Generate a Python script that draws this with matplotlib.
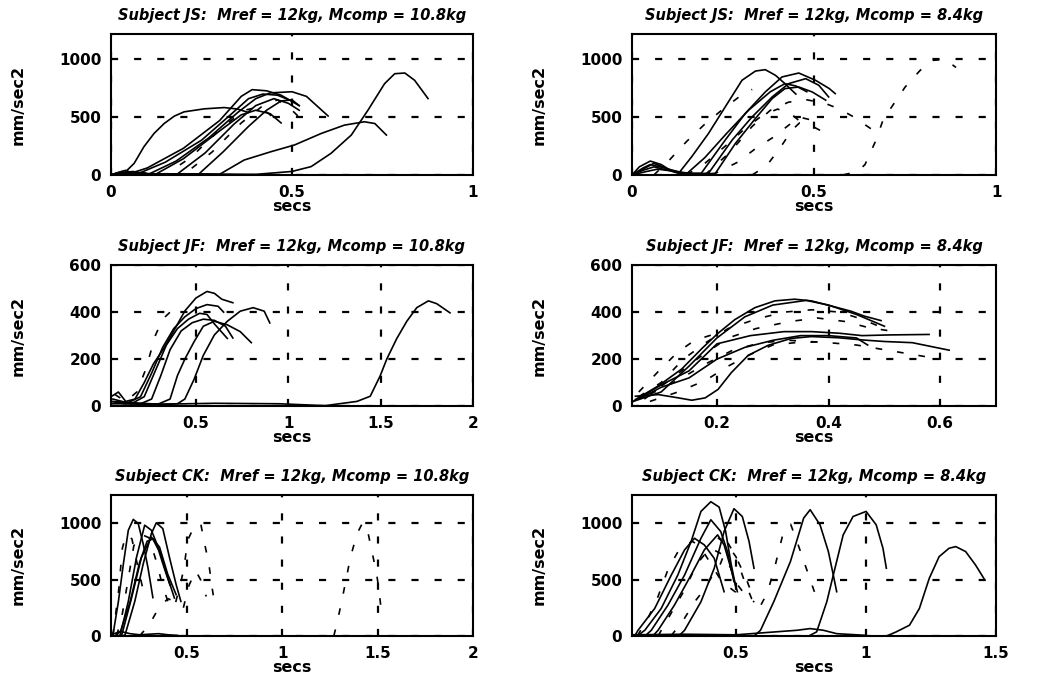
import numpy as np
import matplotlib
matplotlib.use('Agg')
import matplotlib.pyplot as plt

# Acceleration traces (mm/sec2 vs secs) for three subjects, two comparison masses.
# Each panel: list of time arrays, list of acceleration arrays, dashed flags.

# Subject JS, Mcomp = 10.8kg
js_108_t = [
    [0.0, 0.02, 0.036, 0.064, 0.091, 0.119, 0.147, 0.175, 0.202, 0.258, 0.313, 0.35, 0.38],
    [0.0, 0.03, 0.05, 0.1, 0.2, 0.3, 0.36, 0.39, 0.43, 0.47, 0.52],
    [0.0, 0.04, 0.07, 0.15, 0.25, 0.33, 0.38, 0.42, 0.46, 0.5],
    [0.0, 0.05, 0.1, 0.18, 0.27, 0.35, 0.4, 0.44, 0.5, 0.54, 0.6],
    [0.0, 0.06, 0.12, 0.2, 0.3, 0.36, 0.4, 0.44, 0.47],
    [0.02, 0.08, 0.15, 0.22, 0.31, 0.37, 0.41, 0.44, 0.46],
    [0.0, 0.08, 0.18, 0.26, 0.34, 0.4, 0.45, 0.49, 0.52],
    [0.05, 0.2, 0.28, 0.36, 0.42, 0.46, 0.5, 0.53],
    [0.0, 0.1, 0.24, 0.31, 0.38, 0.43, 0.47, 0.5, 0.52],
    [0.0, 0.15, 0.3, 0.368, 0.442, 0.507, 0.581, 0.645, 0.7, 0.729, 0.761],
    [0.0, 0.2, 0.4, 0.5, 0.553, 0.608, 0.664, 0.71, 0.756, 0.784, 0.812, 0.839, 0.876],
]
js_108_a = [
    [0, 20, 14, 100, 244, 359, 445, 509, 546, 572, 583, 570, 540],
    [0, 30, 10, 60, 230, 470, 680, 738, 728, 690, 600],
    [0, 40, 5, 110, 300, 520, 660, 700, 690, 640],
    [0, 25, 0, 120, 320, 540, 660, 710, 720, 680, 510],
    [0, 30, 0, 140, 380, 520, 560, 530, 450],
    [0, 20, 0, 150, 420, 560, 590, 520, 430],
    [0, 15, 0, 190, 440, 600, 660, 620, 560],
    [10, 0, 200, 450, 600, 650, 560, 470],
    [0, 10, 0, 200, 420, 560, 640, 650, 600],
    [0, 10, 5, 129, 201, 259, 359, 431, 460, 445, 345],
    [0, 10, 5, 30, 72, 187, 345, 560, 790, 876, 882, 819, 661],
]
js_108_dash = [False, False, False, False, False, True, False, True, False, False, False]

# Subject JS, Mcomp = 8.4kg
js_84_t = [
    [0, 0.02, 0.05, 0.08, 0.11, 0.128, 0.164, 0.21, 0.256, 0.302, 0.339, 0.366, 0.394, 0.42, 0.45],
    [0, 0.03, 0.05, 0.09, 0.13, 0.19, 0.256, 0.311, 0.366, 0.412, 0.458, 0.504, 0.542, 0.558],
    [0, 0.03, 0.06, 0.1, 0.15, 0.21, 0.275, 0.33, 0.385, 0.43, 0.477, 0.513, 0.54],
    [0, 0.04, 0.07, 0.12, 0.18, 0.229, 0.284, 0.339, 0.385, 0.42, 0.458, 0.495, 0.532],
    [0, 0.03, 0.06, 0.1, 0.15, 0.2, 0.26, 0.32, 0.38, 0.42, 0.45, 0.48],
    [0.58, 0.62, 0.64, 0.67, 0.69, 0.72, 0.75, 0.79, 0.82, 0.86, 0.89],
    [0.2, 0.27, 0.33, 0.38, 0.43, 0.48, 0.53, 0.57, 0.61, 0.656],
    [0.06, 0.1, 0.15, 0.2, 0.25, 0.3, 0.33],
    [0.22, 0.29, 0.34, 0.39, 0.43, 0.46, 0.5],
    [0.15, 0.2, 0.26, 0.31, 0.36, 0.4, 0.44, 0.47],
    [0.33, 0.37, 0.41, 0.44, 0.46, 0.49, 0.52],
]
js_84_a = [
    [0, 70, 120, 90, 30, 14, 158, 359, 589, 819, 899, 911, 862, 790, 700],
    [0, 60, 90, 60, 15, 14, 302, 532, 718, 848, 882, 819, 747, 704],
    [0, 40, 70, 40, 10, 14, 302, 503, 675, 790, 833, 776, 675],
    [0, 30, 50, 30, 5, 14, 273, 489, 661, 747, 761, 718, 647],
    [0, 50, 100, 50, 10, 150, 360, 560, 720, 790, 770, 720],
    [0, 30, 90, 300, 480, 620, 760, 900, 990, 1000, 930],
    [0, 200, 420, 560, 630, 650, 620, 570, 500, 400],
    [0, 120, 290, 440, 570, 690, 740],
    [0, 110, 230, 330, 430, 500, 470],
    [0, 100, 260, 400, 520, 570, 520, 440],
    [0, 80, 250, 390, 450, 430, 380],
]
js_84_dash = [False, False, False, False, False, True, True, True, True, True, True]

# Subject JF, Mcomp = 10.8kg
jf_108_t = [
    [0.04, 0.08, 0.12, 0.17, 0.22, 0.27, 0.33, 0.38, 0.44, 0.5, 0.56, 0.6, 0.64, 0.7],
    [0.04, 0.12, 0.2, 0.26, 0.32, 0.38, 0.44, 0.5, 0.56, 0.62, 0.65],
    [0.05, 0.15, 0.22, 0.28, 0.34, 0.4, 0.46, 0.52, 0.56, 0.6, 0.67],
    [0.05, 0.2, 0.26, 0.31, 0.36, 0.42, 0.48, 0.54, 0.6, 0.66, 0.7],
    [0.06, 0.3, 0.36, 0.4, 0.44, 0.49, 0.54, 0.6, 0.67, 0.74, 0.8],
    [0.05, 0.4, 0.44, 0.49, 0.54, 0.6, 0.67, 0.74, 0.81, 0.87, 0.9],
    [0.06, 0.12, 0.18, 0.23, 0.28, 0.32, 0.36, 0.4],
    [0.04, 0.3, 0.6, 0.95, 1.2, 1.372, 1.444, 1.498, 1.534, 1.588, 1.642, 1.696, 1.759, 1.804, 1.876],
]
jf_108_a = [
    [40, 60, 20, 30, 100, 180, 250, 320, 405, 460, 488, 480, 455, 440],
    [20, 10, 40, 140, 250, 330, 380, 415, 432, 425, 400],
    [30, 10, 40, 150, 260, 330, 370, 395, 390, 350, 288],
    [10, 10, 30, 130, 240, 320, 355, 370, 365, 340, 290],
    [0, 10, 30, 130, 200, 274, 340, 361, 346, 317, 270],
    [0, 10, 30, 114, 216, 303, 361, 404, 419, 404, 354],
    [50, 20, 60, 160, 300, 370, 400, 380],
    [20, 8, 12, 10, 2, 20, 42, 129, 201, 288, 361, 419, 448, 436, 397],
]
jf_108_dash = [False, False, False, False, False, False, True, False]

# Subject JF, Mcomp = 8.4kg
jf_84_t = [
    [0.054, 0.095, 0.137, 0.173, 0.202, 0.232, 0.268, 0.304, 0.339, 0.369, 0.405, 0.44, 0.464, 0.494],
    [0.05, 0.1, 0.15, 0.2, 0.25, 0.3, 0.36, 0.4, 0.45, 0.5],
    [0.05, 0.1, 0.15, 0.2, 0.26, 0.32, 0.37, 0.42, 0.46, 0.51, 0.58],
    [0.054, 0.095, 0.131, 0.155, 0.179, 0.202, 0.226, 0.256, 0.292, 0.333, 0.369, 0.417, 0.464, 0.5, 0.55, 0.616],
    [0.06, 0.1, 0.15, 0.2, 0.25, 0.3, 0.35, 0.4, 0.45, 0.47],
    [0.06, 0.1, 0.14, 0.18, 0.22, 0.27, 0.32, 0.37, 0.42, 0.46, 0.5],
    [0.07, 0.12, 0.17, 0.22, 0.27, 0.33, 0.38, 0.43, 0.47, 0.51],
    [0.08, 0.13, 0.18, 0.23, 0.28, 0.33, 0.4, 0.45, 0.5, 0.55, 0.6],
    [0.06, 0.1, 0.13, 0.16, 0.2],
    [0.08, 0.13, 0.18, 0.22, 0.26, 0.3, 0.34, 0.4],
]
jf_84_a = [
    [28, 86, 158, 245, 310, 368, 419, 448, 455, 448, 426, 404, 383, 364],
    [20, 60, 170, 290, 380, 430, 450, 430, 390, 340],
    [20, 90, 150, 265, 300, 317, 317, 310, 300, 303, 305],
    [42, 49, 35, 25, 35, 71, 143, 216, 259, 288, 296, 291, 281, 275, 270, 238],
    [30, 80, 120, 200, 250, 280, 300, 300, 290, 260],
    [40, 100, 200, 270, 330, 370, 400, 410, 400, 370, 330],
    [30, 120, 210, 290, 330, 360, 375, 360, 335, 320],
    [50, 110, 180, 240, 270, 280, 270, 260, 240, 220, 200],
    [60, 160, 230, 280, 310],
    [20, 60, 110, 170, 220, 260, 270, 275],
]
jf_84_dash = [False, False, False, False, False, True, True, True, True, True]

# Subject CK, Mcomp = 10.8kg
ck_108_t = [
    [0.1, 0.113, 0.139, 0.165, 0.191, 0.217, 0.243, 0.269, 0.294, 0.32],
    [0.13, 0.148, 0.191, 0.234, 0.277, 0.312, 0.355, 0.398, 0.433],
    [0.16, 0.174, 0.225, 0.269, 0.312, 0.338, 0.372, 0.407, 0.442, 0.467],
    [0.14, 0.157, 0.208, 0.26, 0.312, 0.355, 0.398, 0.442],
    [0.12, 0.15, 0.2, 0.25, 0.29, 0.32, 0.35, 0.38, 0.41],
    [0.1, 0.15, 0.2, 0.25, 0.3, 0.35, 0.4, 0.45],
    [1.27, 1.288, 1.313, 1.34, 1.357, 1.392, 1.42, 1.443, 1.469, 1.495, 1.51, 1.52],
    [0.44, 0.47, 0.484, 0.502, 0.536, 0.571, 0.588, 0.614, 0.631, 0.64],
    [0.48, 0.51, 0.545, 0.57, 0.588, 0.6],
    [0.25, 0.3, 0.355, 0.4, 0.44, 0.47],
    [0.13, 0.16, 0.19, 0.22, 0.26, 0.3, 0.34, 0.37, 0.4],
    [0.11, 0.14, 0.16, 0.18, 0.21, 0.24, 0.27],
]
ck_108_a = [
    [0, 36, 306, 637, 937, 1033, 997, 817, 607, 340],
    [0, 6, 306, 697, 982, 937, 757, 517, 336],
    [0, 10, 306, 637, 907, 1003, 952, 697, 456, 306],
    [0, 10, 336, 697, 877, 787, 547, 366],
    [0, 40, 300, 650, 840, 860, 760, 600, 450],
    [10, 40, 20, 10, 15, 20, 10, 5],
    [0, 126, 321, 550, 697, 907, 1000, 967, 757, 547, 366, 200],
    [300, 500, 607, 847, 967, 997, 847, 637, 426, 330],
    [250, 450, 577, 500, 411, 350],
    [0, 96, 261, 330, 300, 240],
    [0, 200, 500, 800, 900, 870, 650, 450, 300],
    [0, 400, 780, 900, 860, 620, 400],
]
ck_108_dash = [False, False, False, False, False, False, True, True, True, True, True, True]

# Subject CK, Mcomp = 8.4kg
ck_84_t = [
    [0.12, 0.149, 0.212, 0.276, 0.327, 0.365, 0.403, 0.435, 0.46, 0.48, 0.5],
    [0.28, 0.302, 0.365, 0.416, 0.454, 0.492, 0.524, 0.55, 0.569],
    [0.15, 0.174, 0.238, 0.302, 0.365, 0.403, 0.441, 0.467, 0.492],
    [0.11, 0.123, 0.187, 0.251, 0.302, 0.34, 0.378, 0.416, 0.454],
    [0.18, 0.2, 0.263, 0.327, 0.378, 0.429, 0.454, 0.48, 0.505],
    [0.57, 0.594, 0.645, 0.709, 0.76, 0.785, 0.823, 0.855, 0.874, 0.887],
    [0.78, 0.81, 0.849, 0.874, 0.912, 0.95, 1.0, 1.039, 1.065, 1.078],
    [1.08, 1.116, 1.167, 1.205, 1.243, 1.281, 1.319, 1.345, 1.383, 1.421, 1.453],
    [0.1, 0.3, 0.5, 0.734, 0.785, 0.836, 0.887, 1.0],
    [0.43, 0.47, 0.5, 0.53, 0.56, 0.59, 0.62, 0.65, 0.68, 0.71, 0.74, 0.77, 0.8, 0.82],
    [0.12, 0.16, 0.2, 0.24, 0.28, 0.33, 0.36, 0.4, 0.44, 0.48, 0.52],
    [0.25, 0.3, 0.34, 0.38, 0.4, 0.44, 0.47, 0.5, 0.54, 0.56],
    [0.2, 0.25, 0.3, 0.35, 0.4, 0.45, 0.48, 0.5, 0.53, 0.57],
]
ck_84_a = [
    [0, 50, 243, 540, 837, 1104, 1190, 1142, 926, 650, 420],
    [0, 50, 303, 600, 926, 1128, 1059, 837, 600],
    [0, 50, 273, 540, 866, 1030, 926, 748, 481],
    [0, 50, 243, 540, 763, 866, 807, 688, 392],
    [0, 50, 273, 540, 763, 896, 807, 600, 392],
    [0, 50, 303, 659, 1045, 1119, 985, 748, 540, 392],
    [0, 36, 303, 540, 896, 1059, 1104, 985, 777, 600],
    [0, 36, 95, 243, 510, 703, 777, 792, 748, 629, 510],
    [10, 15, 10, 50, 65, 50, 20, 5],
    [870, 800, 700, 500, 330, 250, 380, 620, 900, 990, 800, 600, 400, 300],
    [0, 150, 350, 600, 760, 840, 800, 650, 500, 420, 350],
    [0, 150, 300, 420, 500, 640, 820, 700, 500, 380],
    [0, 200, 400, 640, 780, 720, 600, 470, 380, 300],
]
ck_84_dash = [False] * 9 + [True] * 4

titles = [
    'Subject JS:  Mref = 12kg, Mcomp = 10.8kg',
    'Subject JS:  Mref = 12kg, Mcomp = 8.4kg',
    'Subject JF:  Mref = 12kg, Mcomp = 10.8kg',
    'Subject JF:  Mref = 12kg, Mcomp = 8.4kg',
    'Subject CK:  Mref = 12kg, Mcomp = 10.8kg',
    'Subject CK:  Mref = 12kg, Mcomp = 8.4kg',
]
xlims = [(0, 1), (0, 1), (0.04, 2), (0.048, 0.7), (0.1, 2), (0.1, 1.5)]
ylims = [(0, 1220), (0, 1220), (0, 600), (0, 600), (0, 1250), (0, 1250)]
xticks = [[0, 0.5, 1], [0, 0.5, 1], [0.5, 1, 1.5, 2], [0.2, 0.4, 0.6],
          [0.5, 1, 1.5, 2], [0.5, 1, 1.5]]
xticklabels = [['0', '0.5', '1'], ['0', '0.5', '1'], ['0.5', '1', '1.5', '2'],
               ['0.2', '0.4', '0.6'], ['0.5', '1', '1.5', '2'], ['0.5', '1', '1.5']]
yticks = [[0, 500, 1000], [0, 500, 1000], [0, 200, 400, 600], [0, 200, 400, 600],
          [0, 500, 1000], [0, 500, 1000]]

panels = [
    (js_108_t, js_108_a, js_108_dash),
    (js_84_t, js_84_a, js_84_dash),
    (jf_108_t, jf_108_a, jf_108_dash),
    (jf_84_t, jf_84_a, jf_84_dash),
    (ck_108_t, ck_108_a, ck_108_dash),
    (ck_84_t, ck_84_a, ck_84_dash),
]

plt.rcParams['font.family'] = ['DejaVu Sans']
plt.rcParams['font.weight'] = 'bold'

fig = plt.figure(figsize=(10.43, 6.86), dpi=100)
fig.patch.set_facecolor('white')

col_left = [0.1064, 0.606]
col_width = [0.347, 0.349]
row_bottom = [0.745, 0.408, 0.073]
row_height = 0.2055

for i, (ts, accs, dashed) in enumerate(panels):
    r, c = divmod(i, 2)
    ax = fig.add_axes([col_left[c], row_bottom[r], col_width[c], row_height])

    for t, a, d in zip(ts, accs, dashed):
        if d:
            ax.plot(t, a, color='black', lw=1.2, linestyle=(0, (4, 9)), zorder=3)
        else:
            ax.plot(t, a, color='black', lw=1.2, zorder=3)

    ax.set_xlim(*xlims[i])
    ax.set_ylim(*ylims[i])
    ax.set_xticks(xticks[i])
    ax.set_xticklabels(xticklabels[i])
    ax.set_yticks(yticks[i])
    ax.set_yticklabels([str(v) for v in yticks[i]])

    ax.grid(True, color='black', lw=1.6, linestyle=(0, (3.2, 7.2)))
    ax.set_axisbelow(True)

    for sp in ax.spines.values():
        sp.set_linewidth(1.5)
    ax.tick_params(direction='in', length=3, width=1.2, labelsize=11, pad=7)
    for lab in ax.get_xticklabels() + ax.get_yticklabels():
        lab.set_fontweight('bold')

    ax.set_title(titles[i], fontsize=10.5, fontweight='bold', fontstyle='italic', pad=10)
    ax.set_xlabel('secs', fontsize=11.5, fontweight='bold')
    ax.set_ylabel('mm/sec2', fontsize=11.5, fontweight='bold')
    ax.xaxis.set_label_coords(0.5, -0.17)
    ax.yaxis.set_label_coords(-0.235, 0.5)

fig.savefig('out.png', dpi=100, facecolor='white')
